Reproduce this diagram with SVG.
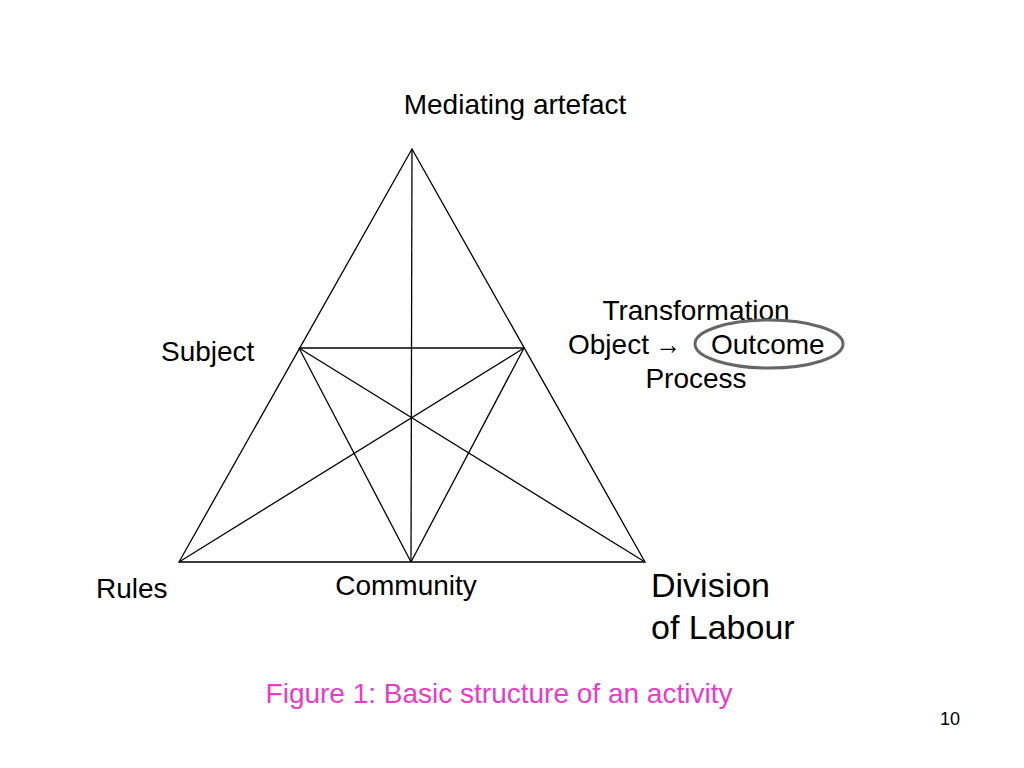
<svg xmlns="http://www.w3.org/2000/svg" width="1024" height="768" viewBox="0 0 1024 768">
<style>
text{font-family:"Liberation Sans",Arial,sans-serif;fill:#000;font-size:28px}
.l{stroke:#000;stroke-width:1.3;fill:none}
.big{font-size:34px}
</style>
<rect width="1024" height="768" fill="#fff"/>
<g id="connectors">
<polygon class="l" points="412,149 179,562 645,562"/>
<line class="l" x1="412" y1="149" x2="411" y2="562"/>
<line class="l" x1="299" y1="348" x2="524" y2="348"/>
<line class="l" x1="299" y1="348" x2="411" y2="562"/>
<line class="l" x1="524" y1="348" x2="411" y2="562"/>
<line class="l" x1="299" y1="348" x2="645" y2="562"/>
<line class="l" x1="524" y1="348" x2="179" y2="562"/>
</g>
<g id="mediating"><text x="515" y="114" text-anchor="middle">Mediating artefact</text></g>
<g id="subject"><text x="161" y="361">Subject</text></g>
<g id="object">
<text x="696" y="320" text-anchor="middle">Transformation</text>
<text x="568" y="354">Object</text>
<text x="655" y="354" textLength="26" lengthAdjust="spacingAndGlyphs">→</text>
<text x="711" y="354">Outcome</text>
<text x="696" y="388" text-anchor="middle">Process</text>
<ellipse cx="769" cy="344" rx="74" ry="24" fill="none" stroke="#666" stroke-width="3"/>
</g>
<g id="rules"><text x="96" y="598">Rules</text></g>
<g id="community"><text x="406" y="595" text-anchor="middle">Community</text></g>
<g id="division"><text class="big" x="651" y="597">Division</text><text class="big" x="651" y="639">of Labour</text></g>
<g id="caption"><text x="499" y="703" text-anchor="middle" style="fill:#e83cc8">Figure 1: Basic structure of an activity</text></g>
<g id="page"><text x="950" y="725" text-anchor="middle" style="font-size:18px">10</text></g>
</svg>
